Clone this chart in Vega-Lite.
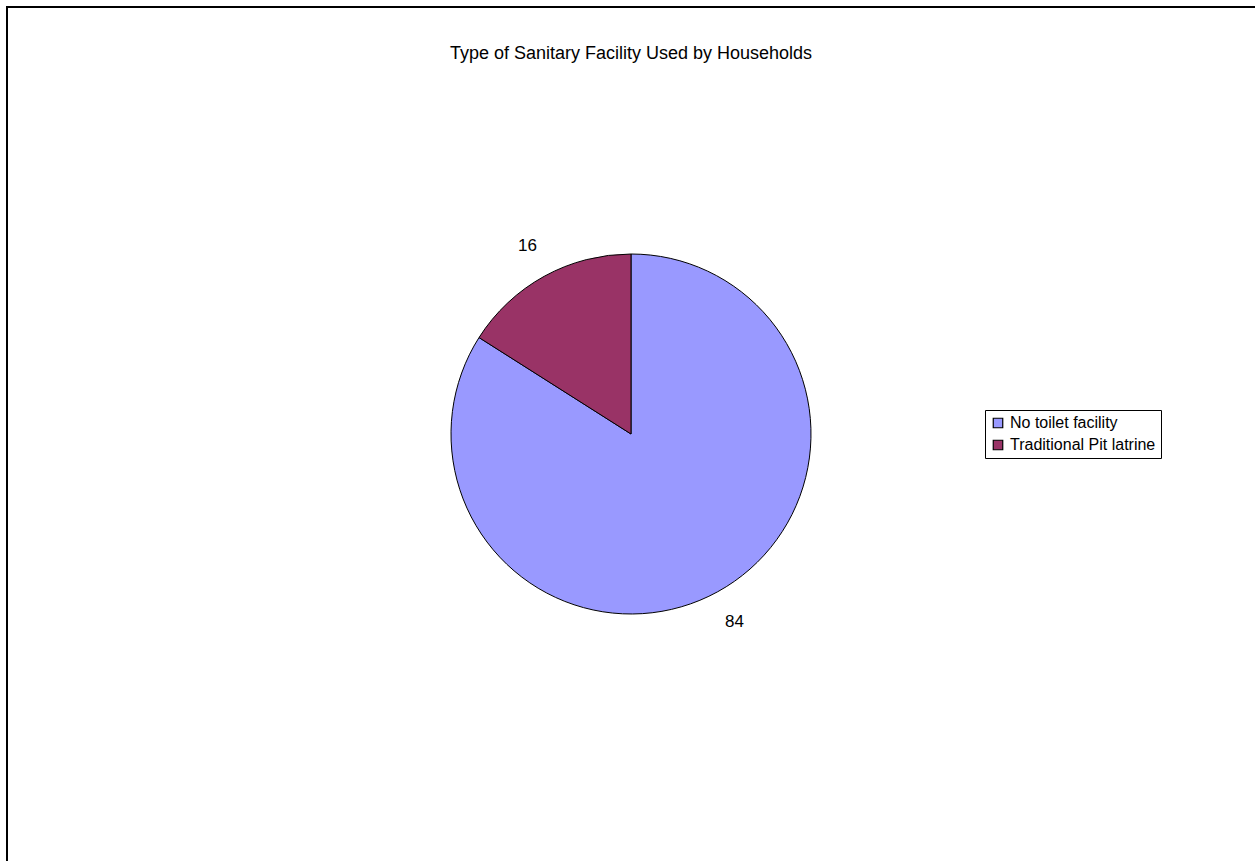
{
  "$schema": "https://vega.github.io/schema/vega-lite/v6.json",
  "autosize": {"type": "none"},
  "width": 1248,
  "height": 854,
  "padding": {"left": 7, "top": 7, "right": 0, "bottom": 0},
  "background": "white",
  "title": {
    "text": "Type of Sanitary Facility Used by Households",
    "anchor": "middle",
    "frame": "group",
    "offset": -57,
    "fontSize": 18,
    "fontWeight": "normal",
    "font": "Liberation Sans",
    "color": "black"
  },
  "config": {
    "view": {"stroke": null},
    "font": "Liberation Sans"
  },
  "layer": [
    {
      "data": {"values": [{"frame": 1}]},
      "mark": {"type": "rect", "fill": null, "stroke": "black", "strokeWidth": 2},
      "encoding": {
        "x": {"value": 0},
        "x2": {"value": {"expr": "width + 20"}},
        "y": {"value": 0},
        "y2": {"value": {"expr": "height + 20"}}
      }
    },
    {
      "data": {
        "values": [
          {"facility": "No toilet facility", "percent": 84, "order": 1},
          {"facility": "Traditional Pit latrine", "percent": 16, "order": 2}
        ]
      },
      "encoding": {
        "theta": {"field": "percent", "type": "quantitative", "stack": true},
        "order": {"field": "order", "type": "quantitative"}
      },
      "layer": [
        {
          "mark": {"type": "arc", "outerRadius": 180, "stroke": "black", "strokeWidth": 1},
          "encoding": {
            "color": {
              "field": "facility",
              "type": "nominal",
              "scale": {"domain": ["No toilet facility", "Traditional Pit latrine"], "range": ["#9999FF", "#993366"]},
              "legend": {
                "title": null,
                "orient": "none",
                "legendX": 978,
                "legendY": 403,
                "strokeColor": "black",
                "padding": 5,
                "symbolType": "square",
                "symbolSize": 90,
                "symbolStrokeColor": "black",
                "symbolStrokeWidth": 1.2,
                "symbolOpacity": 1,
                "labelFontSize": 16,
                "labelFont": "Liberation Sans",
                "labelColor": "black",
                "rowPadding": 6,
                "labelOffset": 4
              }
            }
          }
        },
        {
          "mark": {"type": "text", "radius": 215, "fontSize": 17, "font": "Liberation Sans", "color": "black"},
          "encoding": {
            "text": {"field": "percent", "type": "quantitative"}
          }
        }
      ]
    }
  ]
}
